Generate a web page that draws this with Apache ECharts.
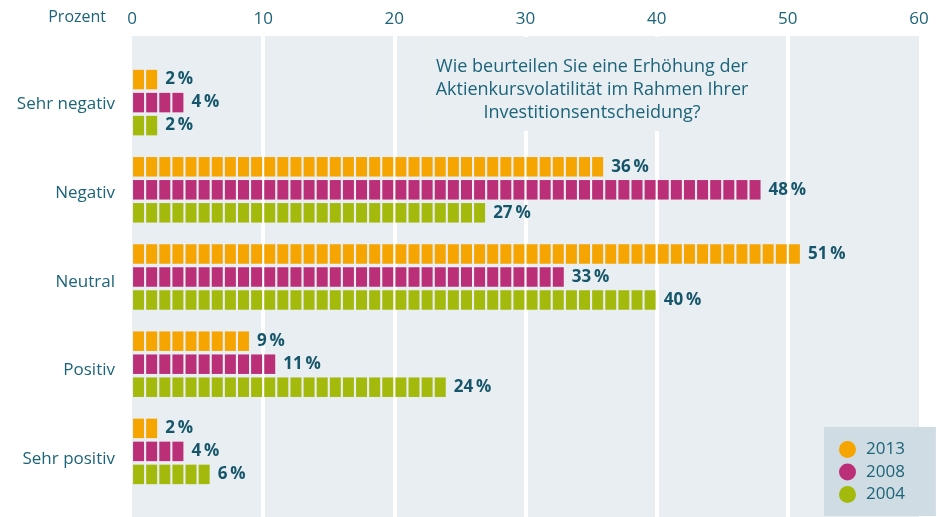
<!DOCTYPE html>
<html>
<head>
<meta charset="utf-8">
<script src="https://cdn.jsdelivr.net/npm/echarts@6/dist/echarts.min.js"></script>
<style>
  html, body { margin: 0; padding: 0; background: #fff; }
  #chart { width: 937px; height: 517px; }
</style>
</head>
<body>
<div id="chart"></div>
<script>
  'use strict';

  /*数据*/
  var categories = ['Sehr negativ', 'Negativ', 'Neutral', 'Positiv', 'Sehr positiv'];
  var years = ['2013', '2008', '2004'];
  var values2013 = [2, 36, 51, 9, 2];
  var values2008 = [4, 48, 33, 11, 4];
  var values2004 = [2, 27, 40, 24, 6];
  var xTicks = [0, 10, 20, 30, 40, 50, 60];
  var question = [
    'Wie beurteilen Sie eine Erhöhung der',
    'Aktienkursvolatilität im Rahmen Ihrer',
    'Investitionsentscheidung?'
  ];

  var colors = ['#f6a500', '#bb2f79', '#a3b90b'];
  var textColor = '#1c6479';
  var labelColor = '#16566a';
  var bgColor = '#e9eef2';
  var font = 'Open Sans';

  /*一组分段条形：每 1% 一格*/
  var makeSeries = function (name, vals, color){
    return {
      name: name,
      type: 'pictorialBar',
      xAxisIndex: 1,
      yAxisIndex: 1,
      symbol: 'rect',
      symbolSize: [11, 19.5],
      symbolMargin: '1!',
      barWidth: 19.5,
      barGap: '18%',
      itemStyle: {color: color, borderColor: 'rgba(255,255,255,0.3)', borderWidth: 1},
      label: {
        show: true,
        position: 'right',
        distance: 7,
        formatter: '{c}\u2009%',
        color: labelColor,
        fontWeight: 'bold',
        fontSize: 17,
        fontFamily: font
      },
      data: vals.map(function (v){
        return {value: v, symbolRepeat: v, symbolBoundingData: v};
      })
    };
  };

  var xRange = {min: xTicks[0], max: xTicks[xTicks.length - 1]};

  var myChart = echarts.init(document.getElementById('chart'));
  var option = {
    animation: false,
    color: colors,
    textStyle: {fontFamily: font},
    grid: [
      {left: 132, right: 18, top: 36, bottom: 0, show: true, backgroundColor: bgColor, borderWidth: 0},
      {left: 132, right: 18, top: 59, bottom: 22},
      {left: 132, right: 18, top: 59.5, bottom: 13}
    ],
    xAxis: [
      {
        gridIndex: 0,
        type: 'value',
        position: 'top',
        min: xRange.min,
        max: xRange.max,
        interval: xTicks[1] - xTicks[0],
        axisLine: {show: false},
        axisTick: {show: false},
        axisLabel: {color: textColor, fontSize: 17, margin: 8, fontFamily: font},
        splitLine: {show: true, showMinLine: false, showMaxLine: false, lineStyle: {color: '#ffffff', width: 4}}
      },
      {gridIndex: 1, type: 'value', min: xRange.min, max: xRange.max, show: false},
      {gridIndex: 2, type: 'value', min: xRange.min, max: xRange.max, show: false}
    ],
    yAxis: [
      {gridIndex: 0, type: 'value', show: false},
      {
        gridIndex: 1,
        type: 'category',
        inverse: true,
        data: categories,
        axisLine: {show: false},
        axisTick: {show: false},
        axisLabel: {show: false}
      },
      {
        gridIndex: 2,
        type: 'category',
        inverse: true,
        data: categories,
        axisLine: {show: false},
        axisTick: {show: false},
        axisLabel: {color: textColor, fontSize: 17, margin: 17, fontFamily: font}
      }
    ],
    legend: {
      data: years,
      orient: 'vertical',
      left: 824,
      top: 427,
      padding: [14, 31, 13, 15],
      backgroundColor: '#d0dce3',
      icon: 'circle',
      itemWidth: 17,
      itemHeight: 17,
      itemGap: 5.5,
      itemStyle: {borderWidth: 0},
      textStyle: {color: textColor, fontSize: 17, lineHeight: 17, padding: [0, 0, 0, 5], fontFamily: font}
    },
    graphic: [
      {
        type: 'text',
        x: 106,
        y: 17,
        style: {text: 'Prozent', fill: textColor, fontSize: 16, fontFamily: font, align: 'right', verticalAlign: 'middle'}
      },
      {
        type: 'text',
        z: 5,
        x: 592,
        y: 37,
        style: {
          text: question.join('\n'),
          fill: textColor,
          fontSize: 18,
          fontFamily: font,
          lineHeight: 23,
          align: 'center',
          verticalAlign: 'top',
          backgroundColor: bgColor,
          padding: [18, 10, 7, 10]
        }
      }
    ],
    series: [
      makeSeries(years[0], values2013, colors[0]),
      makeSeries(years[1], values2008, colors[1]),
      makeSeries(years[2], values2004, colors[2])
    ]
  };

  myChart.setOption(option);
</script>
</body>
</html>
